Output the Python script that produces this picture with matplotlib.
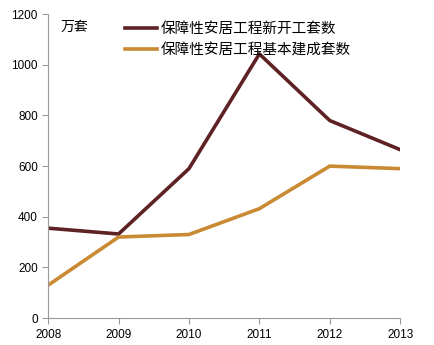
import matplotlib
matplotlib.use("Agg")
import matplotlib.pyplot as plt

plt.rcParams['font.family'] = ['Noto Sans CJK SC', 'DejaVu Sans']

years = [2008, 2009, 2010, 2011, 2012, 2013]
new_start = [355, 332, 590, 1043, 780, 665]
completed = [130, 320, 330, 432, 600, 590]
labels = ["保障性安居工程新开工套数", "保障性安居工程基本建成套数"]

fig = plt.figure(figsize=(4.34, 3.45), dpi=100)
ax = fig.add_axes([0.111, 0.078, 0.811, 0.881])

ax.plot(years, new_start, color="#5E2224", lw=2.6, label=labels[0])
ax.plot(years, completed, color="#C98A33", lw=2.6, label=labels[1])

ax.set_xlim(2008, 2013)
ax.set_ylim(0, 1200)
ax.set_xticks(years)
ax.set_yticks(range(0, 1201, 200))
for s in ["top", "right"]:
    ax.spines[s].set_visible(False)
for s in ["left", "bottom"]:
    ax.spines[s].set_color("#999999")
ax.tick_params(axis="both", colors="#999999", labelcolor="black", labelsize=8.5,
               length=4, width=0.8)
ax.tick_params(axis="x", pad=4)
for lbl in ax.get_xticklabels() + ax.get_yticklabels():
    lbl.set_family("Liberation Sans")

ax.text(0.034, 0.98, "万套", transform=ax.transAxes, fontsize=10, va="top")
ax.legend(loc="upper left", bbox_to_anchor=(0.18, 1.018), frameon=False,
          fontsize=10.5, handlelength=2.2, handletextpad=0.3, labelspacing=0.5)

fig.savefig("out.png", dpi=100)
